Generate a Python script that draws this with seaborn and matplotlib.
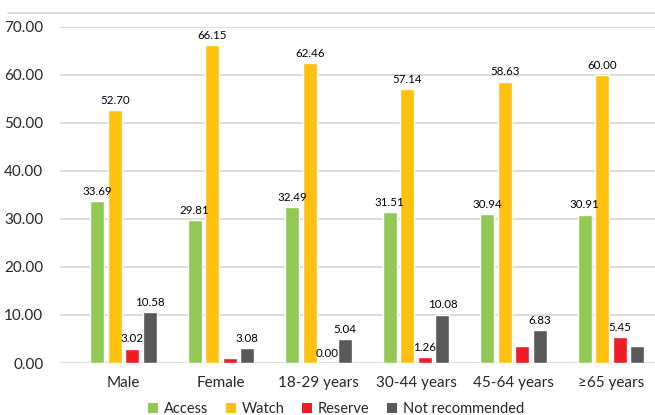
import matplotlib
matplotlib.use("Agg")
import matplotlib.pyplot as plt
from matplotlib.lines import Line2D
from matplotlib.patches import Patch
import seaborn as sns
import pandas as pd

categories = ["Male", "Female", "18-29 years", "30-44 years", "45-64 years", "\u226565 years"]
series = ["Access", "Watch", "Reserve", "Not recommended"]
access = [33.69, 29.81, 32.49, 31.51, 30.94, 30.91]
watch = [52.70, 66.15, 62.46, 57.14, 58.63, 60.00]
reserve = [3.02, 0.96, 0.00, 1.26, 3.60, 5.45]
not_recommended = [10.58, 3.08, 5.04, 10.08, 6.83, 3.64]
# which values carry a printed label (per series, per category)
show_label = {
    "Access": [True] * 6,
    "Watch": [True] * 6,
    "Reserve": [True, False, True, True, False, True],
    "Not recommended": [True, True, True, True, True, False],
}
colors = ["#92C955", "#FFC010", "#EE1C25", "#595959"]

values = {"Access": access, "Watch": watch, "Reserve": reserve,
          "Not recommended": not_recommended}
rows = []
for s in series:
    for c, v in zip(categories, values[s]):
        rows.append({"Group": c, "Category": s, "Value": v})
df = pd.DataFrame(rows)

sns.set_theme(style="white")
plt.rcParams["font.family"] = ["Lato", "DejaVu Sans"]

fig = plt.figure(figsize=(6.55, 4.15), dpi=100)
ax = fig.add_axes([60 / 655, 52 / 415, 595 / 655, 336 / 415])

sns.barplot(data=df, x="Group", y="Value", hue="Category", order=categories,
            hue_order=series, palette=colors, width=0.72, gap=0.2,
            saturation=1, ax=ax, legend=False, errorbar=None)

for cont, s in zip(ax.containers, series):
    labels = [f"{v:.2f}" if show else "" for v, show in zip(values[s], show_label[s])]
    ax.bar_label(cont, labels=labels, padding=3, fontsize=8.3, color="#000000")

ax.set_ylim(0, 70)
ax.set_yticks(range(0, 71, 10))
ax.set_yticklabels([f"{t:.2f}" for t in range(0, 71, 10)], fontsize=11)
ax.set_xlim(-0.651, 5.451)
ax.tick_params(axis="x", labelsize=11, length=0, pad=9)
ax.tick_params(axis="y", length=0, pad=12)
ax.set_xlabel("")
ax.set_ylabel("")
ax.yaxis.grid(True, color="#D9D9D9", linewidth=1.3)
ax.set_axisbelow(True)
for sp in ax.spines.values():
    sp.set_visible(False)

# chart frame line along the top
fig.add_artist(Line2D([8 / 655, 1.0], [1 - 13 / 415, 1 - 13 / 415],
                      color="#D9D9D9", linewidth=1.3))

handles = [Patch(facecolor=c, edgecolor="none") for c in colors]
fig.legend(handles, series, loc="lower center", bbox_to_anchor=(0.513, -0.035),
           ncol=4, frameon=False, fontsize=10.5, handlelength=0.7,
           handleheight=0.7, handletextpad=0.4, columnspacing=1.2)

fig.savefig("out.png", dpi=100)
